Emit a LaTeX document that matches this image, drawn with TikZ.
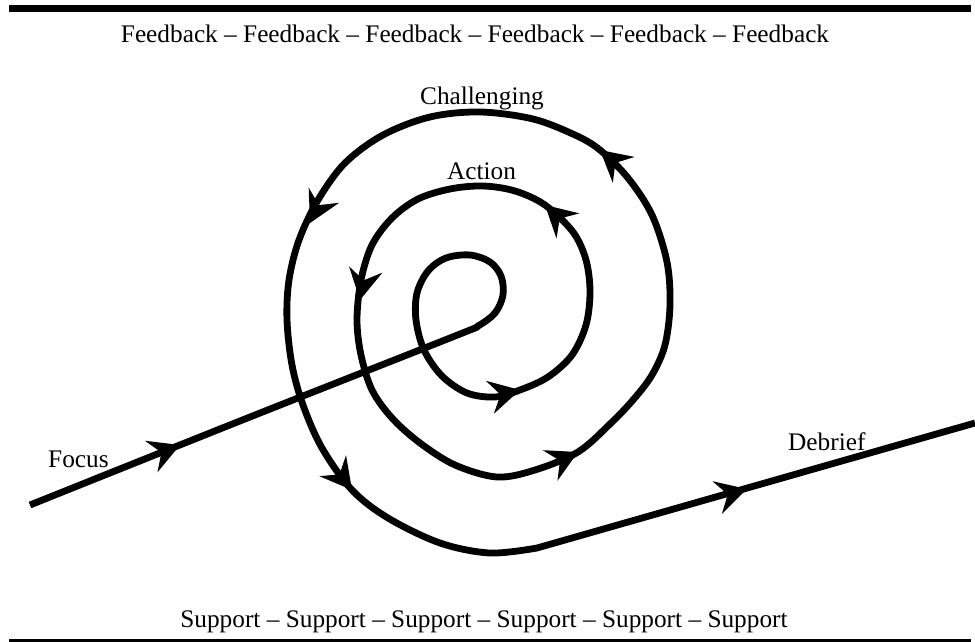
\documentclass[tikz,border=0pt]{standalone}
\usepackage{fontspec}
\setmainfont{Liberation Serif}
\usetikzlibrary{calc}
\newcommand\ahead[2]{\fill (#1) -- ($(#1)!35.4pt!28.7:(#2)$) -- ($(#1)!20pt!(#2)$) -- ($(#1)!35.4pt!-28.7:(#2)$) -- cycle;}
\begin{document}
\begin{tikzpicture}[x=1pt,y=-1pt,
  spiral/.style={line width=6.8pt, line join=round},
  lbl/.style={font=\fontsize{25.3}{29}\selectfont, inner sep=0pt, anchor=base}]
\useasboundingbox (0,0) rectangle (975,642);
\fill (9,5) rectangle (971,12);
\fill (9,639) rectangle (971,646);
\node[lbl] (fb) at (475,43) {Feedback -- Feedback -- Feedback -- Feedback -- Feedback -- Feedback};
\node[lbl] (sp) at (484,627) {Support -- Support -- Support -- Support -- Support -- Support};
\node[lbl] (ch) at (482,104) {Challenging};
\node[lbl] (ac) at (481.5,179) {Action};
\node[lbl, anchor=base west] (fo) at (48,467) {Focus};
\node[lbl, anchor=base west] (de) at (788,450) {Debrief};
\coordinate (start) at (30,505);
\coordinate (bend) at (537,548);
\coordinate (finish) at (975,423);
\draw[spiral] plot[smooth, tension=0.55] coordinates {
 (30,505) (250,417) (455,336)
 (478,326) (495,313) (503,295) (501,276) (490,262) (470,255) (446,258) (428,271) (417,293) (416,320) (424,350) (442,376) (467,393) (495,397)
 (520,390) (548,377) (572,355) (586,325) (590,292) (586,260) (573,232) (545,205) (515,191) (483,186) (450,189) (418,199) (392,218) (372,245) (361,280) (357,320) (361,355) (372,390) (392,418) (420,443) (455,465) (497,477) (535,470) (578,452) (610,424) (633,400) (652,375) (665,345) (670,305) (667,262) (652,215) (628,178) (600,150) (575,135) (533,119) (480,112) (430,117) (383,135) (345,163) (318,200) (299,240) (289,280) (287,320) (292,365) (303,405) (322,448) (352,490) (388,518) (440,543) (490,553) (537,548)}
 -- (finish);
\coordinate (t1) at (180,445); \coordinate (f1) at (150,457);
\coordinate (t2) at (520,390); \coordinate (f2) at (491,397);
\coordinate (t3) at (545,205); \coordinate (f3) at (568,226);
\coordinate (t4) at (360,300); \coordinate (f4) at (366,268);
\coordinate (t5) at (578,452); \coordinate (f5) at (549,466);
\coordinate (t6) at (600,150); \coordinate (f6) at (625,171);
\coordinate (t7) at (310,223); \coordinate (f7) at (324,195);
\coordinate (t8) at (352,490); \coordinate (f8) at (333,466);
\coordinate (t9) at (747,489); \coordinate (f9) at (717,497.6);
\ahead{t1}{f1}
\ahead{t2}{f2}
\ahead{t3}{f3}
\ahead{t4}{f4}
\ahead{t5}{f5}
\ahead{t6}{f6}
\ahead{t7}{f7}
\ahead{t8}{f8}
\ahead{t9}{f9}
\end{tikzpicture}
\end{document}
